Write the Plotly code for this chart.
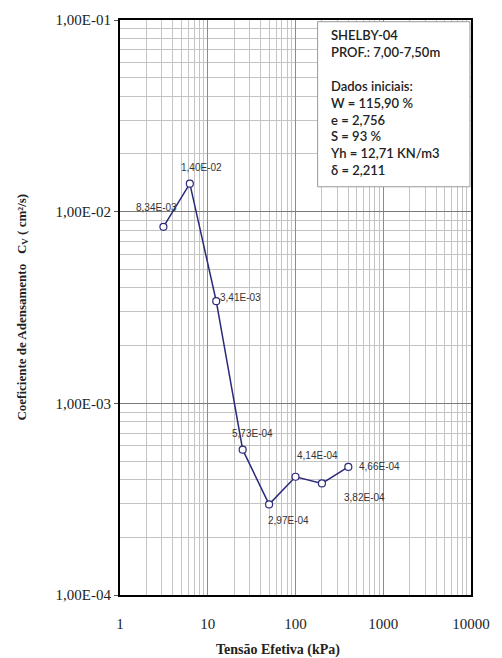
import plotly.graph_objects as go
import numpy as np

# Data
tensao = [3.125, 6.25, 12.5, 25, 50, 100, 200, 400]
cv = [8.34e-03, 1.40e-02, 3.41e-03, 5.73e-04, 2.97e-04, 4.14e-04, 3.82e-04, 4.66e-04]
cv_labels = ["8,34E-03", "1,40E-02", "3,41E-03", "5,73E-04", "2,97E-04", "4,14E-04", "3,82E-04", "4,66E-04"]
label_dx = [-7, 12, 24, 10, 19, 22, 43, 31]
label_dy = [19, 16, 4, 16, -16, 21, -14, 0]

x_ticks = [1, 10, 100, 1000, 10000]
x_ticktext = ["1", "10", "100", "1000", "10000"]
y_ticks = [1e-4, 1e-3, 1e-2, 1e-1]
y_ticktext = ["1,00E-04", "1,00E-03", "1,00E-02", "1,00E-01"]

info_lines = ["SHELBY-04", "PROF.: 7,00-7,50m", " ", "Dados iniciais:", "W = 115,90 %",
              "e = 2,756", "S = 93 %", "Yh = 12,71 KN/m3", "δ = 2,211"]

minor_x = [m * 10 ** k for k in range(0, 4) for m in range(2, 10)]
minor_y = [m * 10.0 ** k for k in range(-4, -1) for m in range(2, 10)]

navy = "#2b2b7a"
serif = "Liberation Serif, Times New Roman"
fig = go.Figure()
fig.add_trace(go.Scatter(
    x=tensao, y=cv, mode="lines+markers",
    line=dict(color=navy, width=1.5),
    marker=dict(symbol="circle", size=7, color="white", line=dict(color=navy, width=1.2)),
    showlegend=False, hoverinfo="skip"))

for xv, yv, t, dx, dy in zip(tensao, cv, cv_labels, label_dx, label_dy):
    fig.add_annotation(x=np.log10(xv), y=np.log10(yv), text=t, showarrow=False,
                       xshift=dx, yshift=dy,
                       font=dict(family="Liberation Sans, Arial", size=10, color="#333333"))

fig.update_xaxes(type="log", range=[0, 4], tickmode="array", tickvals=x_ticks, ticktext=x_ticktext,
                 tickfont=dict(family=serif, size=15, color="#222"),
                 showgrid=True, gridcolor="#8c8c8c", gridwidth=1,
                 minor=dict(tickmode="array", tickvals=minor_x, showgrid=True, gridcolor="#c4c4c4", gridwidth=1),
                 showline=True, linecolor="black", linewidth=2, mirror=True,
                 ticks="", zeroline=False, ticklabelstandoff=14)
fig.update_yaxes(type="log", range=[-4, -1], tickmode="array", tickvals=y_ticks, ticktext=y_ticktext,
                 tickfont=dict(family=serif, size=15, color="#222"),
                 showgrid=True, gridcolor="#7a7a7a", gridwidth=1,
                 minor=dict(tickmode="array", tickvals=minor_y, showgrid=True, gridcolor="#c4c4c4", gridwidth=1),
                 showline=True, linecolor="black", linewidth=2, mirror=True,
                 ticks="outside", ticklen=4, tickcolor="#555", zeroline=False)

# axis titles
fig.add_annotation(xref="paper", yref="paper", x=0.451, y=-0.096, xanchor="center", yanchor="middle",
                   text="<b>Tensão Efetiva (kPa)</b>",
                   showarrow=False, font=dict(family=serif, size=14, color="#222"))
fig.add_annotation(xref="paper", yref="paper", x=-0.279, y=0.5, xanchor="center", yanchor="middle",
                   textangle=-90,
                   text="<b>Coeficiente de Adensamento   C<sub>V</sub> ( cm²/s)</b>",
                   showarrow=False, font=dict(family=serif, size=13, color="#222"))

# info box
fig.add_shape(type="rect", xref="paper", yref="paper", x0=0.563, x1=0.997, y0=0.71, y1=0.997,
              fillcolor="white", line=dict(color="#999999", width=1), layer="above")
fig.add_annotation(xref="paper", yref="paper", x=0.592, y=0.992, xanchor="left", yanchor="top",
                   text="<br>".join(info_lines), showarrow=False, align="left",
                   font=dict(family="Lato, Open Sans", size=13, color="#222", weight=600))
fig.update_layout(
    width=502, height=658, margin=dict(l=120, r=23, t=13, b=63),
    paper_bgcolor="white", plot_bgcolor="white",
)
fig.write_html("out.html")
